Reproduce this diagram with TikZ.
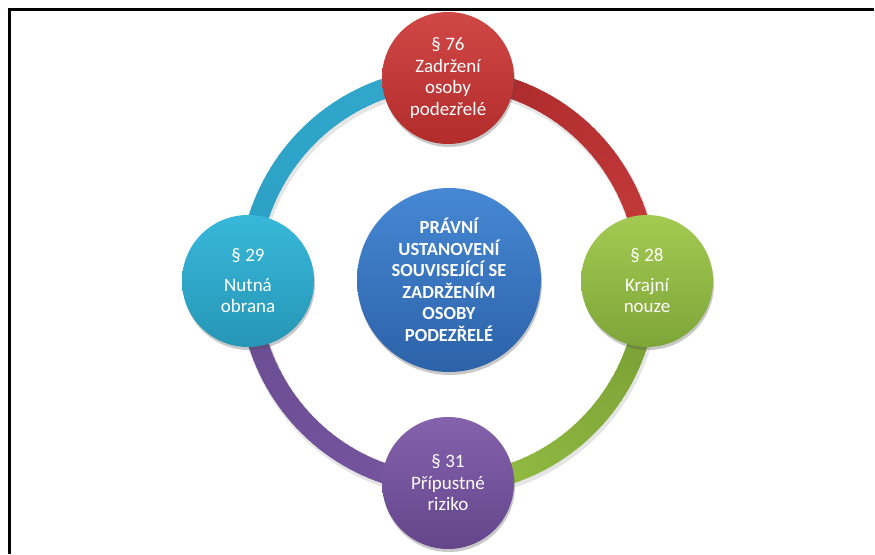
\documentclass[tikz,border=0pt]{standalone}
\usepackage{fontspec}
\setmainfont{Carlito}
\usetikzlibrary{shadows,calc}
\definecolor{redT}{RGB}{208,72,70}
\definecolor{redB}{RGB}{178,44,44}
\definecolor{grnT}{RGB}{163,203,82}
\definecolor{grnB}{RGB}{126,165,56}
\definecolor{purT}{RGB}{132,98,172}
\definecolor{purB}{RGB}{100,70,140}
\definecolor{cyaT}{RGB}{56,184,218}
\definecolor{cyaB}{RGB}{38,150,182}
\definecolor{bluT}{RGB}{70,136,212}
\definecolor{bluB}{RGB}{44,98,168}
\definecolor{redA}{RGB}{200,60,60}
\definecolor{redZ}{RGB}{168,40,42}
\definecolor{grnA}{RGB}{150,192,70}
\definecolor{grnZ}{RGB}{118,155,50}
\definecolor{purA}{RGB}{106,76,146}
\definecolor{purZ}{RGB}{118,86,160}
\definecolor{cyaA}{RGB}{48,168,204}
\definecolor{cyaZ}{RGB}{44,160,196}
\begin{document}
\begin{tikzpicture}[x=1pt,y=1pt,
  bub/.style={circle, minimum size=132pt, inner sep=0pt, align=center, text=white,
    font=\fontsize{19}{21.5}\selectfont,
    drop shadow={shadow xshift=1pt, shadow yshift=-3pt, opacity=0.3, fill=black!70}},
  ringshadow/.style={line width=22pt, black, opacity=0.10},
  frame/.style={line width=3pt}
]
\fill[white] (0,0) rectangle (875,554);
\useasboundingbox (0,0) rectangle (875,554);
\draw[frame] (9,0) -- (9,546);
\draw[frame] (7.5,544.5) -- (874,544.5);
\coordinate (rc) at (448,273);
% ring shadow
\draw[ringshadow] ($(rc)+(1.5,-3)$) ellipse[x radius=199.5pt, y radius=203pt];
% ring arcs
\foreach \sa/\ca/\cb in {90/redA/redZ, 0/grnA/grnZ, -90/purA/purZ, -180/cyaA/cyaZ}{
  \foreach \i in {0,...,44}{
    \pgfmathsetmacro\st{\sa-2*\i}
    \pgfmathtruncatemacro\p{100-\i*100/44}
    \draw[line width=20pt, color=\cb!\p!\ca]
      ($(rc)+(\st:199.5pt and 203pt)$)
      arc[start angle=\st, end angle=\st-2.4, x radius=199.5pt, y radius=203pt];
  }
}
\node[bub, top color=redT, bottom color=redB] (n76) at (448,476)
  {§ 76\\Zadržení\\osoby\\podezřelé};
\node[bub, top color=grnT, bottom color=grnB] (n28) at (647,273)
  {§ 28\\[8pt]Krajní\\nouze};
\node[bub, top color=purT, bottom color=purB] (n31) at (448,71)
  {§ 31\\Přípustné\\riziko};
\node[bub, top color=cyaT, bottom color=cyaB] (n29) at (248,273)
  {§ 29\\[8pt]Nutná\\obrana};
\node[bub, minimum size=184pt, font=\bfseries\fontsize{18.5}{21.5}\selectfont,
  top color=bluT, bottom color=bluB] (c) at (449,274)
  {PRÁVNÍ\\USTANOVENÍ\\SOUVISEJÍCÍ SE\\ZADRŽENÍM\\OSOBY\\PODEZŘELÉ};
\end{tikzpicture}
\end{document}
